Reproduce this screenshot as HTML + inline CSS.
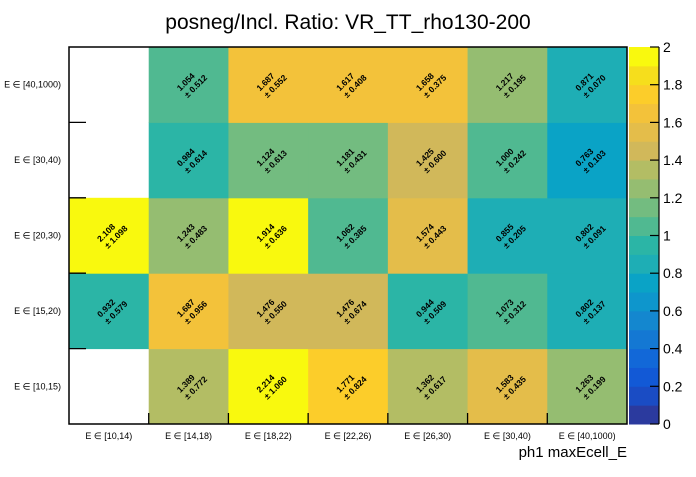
<!DOCTYPE html>
<html><head><meta charset="utf-8"><style>
body{margin:0;background:#fff;font-family:"Liberation Sans",sans-serif}
</style></head><body>
<svg id="c" width="696" height="472" xmlns="http://www.w3.org/2000/svg" font-family="Liberation Sans, DejaVu Sans, sans-serif">
<text x="348" y="29" font-size="21" text-anchor="middle">posneg/Incl. Ratio: VR_TT_rho130-200</text>
<g id="cells"></g>
<g id="axes"></g>
</svg>
<script>
const xLabels=["E ∈ [10,14)","E ∈ [14,18)","E ∈ [18,22)","E ∈ [22,26)","E ∈ [26,30)","E ∈ [30,40)","E ∈ [40,1000)"];
const yLabels=["E ∈ [10,15)","E ∈ [15,20)","E ∈ [20,30)","E ∈ [30,40)","E ∈ [40,1000)"];
const values=[
 [null,1.389,2.214,1.771,1.362,1.583,1.263],
 [0.932,1.687,1.476,1.476,0.944,1.073,0.802],
 [2.108,1.243,1.914,1.062,1.574,0.855,0.802],
 [null,0.984,1.124,1.181,1.425,1.000,0.763],
 [null,1.054,1.687,1.617,1.658,1.217,0.871]];
const errors=[
 [null,0.772,1.060,0.824,0.617,0.435,0.199],
 [0.579,0.956,0.550,0.674,0.509,0.312,0.137],
 [1.098,0.483,0.636,0.385,0.443,0.205,0.091],
 [null,0.614,0.613,0.431,0.600,0.242,0.103],
 [null,0.512,0.552,0.408,0.375,0.195,0.070]];
const zTicks=[0,0.2,0.4,0.6,0.8,1,1.2,1.4,1.6,1.8,2];
const palette=["#2b3a9e","#1a4cc4","#1259d6","#1268d8","#1478d3","#1487cf","#0e96cc","#0aa3c6","#1eaeb5","#2bb5a6","#50b991","#73bc80","#95bd71","#b3bd64","#d1b85a","#e4bd4a","#f3c23a","#fccd2a","#f6de1c","#f9f90e"];
const L=69,R=627,T=47,B=424,CB0=629,CB1=659;
const NS="http://www.w3.org/2000/svg";
const cw=(R-L)/xLabels.length, rh=(B-T)/yLabels.length;
const xPos=i=>L+i*cw, yPos=j=>B-(j+1)*rh;
const zPos=z=>B-(z-0)/(2-0)*(B-T);
function col(v){let k=Math.floor(v*10+1e-9);k=Math.max(0,Math.min(19,k));return palette[k];}
function mk(tag,attrs,parent){const e=document.createElementNS(NS,tag);for(const k in attrs)e.setAttribute(k,attrs[k]);parent.appendChild(e);return e;}
const cells=document.getElementById('cells'),axes=document.getElementById('axes');
values.forEach((row,j)=>row.forEach((v,i)=>{
 if(v===null)return;
 const r=mk('rect',{x:xPos(i),y:yPos(j),width:cw+0.5,height:rh+0.5,fill:col(v)},cells);
 
 
 const cx=xPos(i)+cw/2, cy=yPos(j)+rh/2;
 const t=mk('text',{transform:`translate(${cx},${cy}) rotate(-45)`,'font-size':8.5,'font-weight':'bold','text-anchor':'middle'},cells);
 
 
 mk('tspan',{x:0,y:-1},t).textContent=v.toFixed(3);
 mk('tspan',{x:4,y:9},t).textContent="± "+errors[j][i].toFixed(3);
}));
// frame
const fr=mk('rect',{x:L,y:T,width:R-L,height:B-T,fill:'none',stroke:'#000','stroke-width':1.5},axes);


for(let j=0;j<yLabels.length;j++){
 if(j>0) mk('line',{x1:L,x2:L+17,y1:B-j*rh,y2:B-j*rh,stroke:'#000','stroke-width':1.3},axes);
 const t=mk('text',{x:L-8,y:yPos(j)+rh/2+3,'font-size':9,'text-anchor':'end'},axes);
 
 
 t.textContent=yLabels[j];
}
for(let i=0;i<xLabels.length;i++){
 if(i>0) mk('line',{x1:xPos(i),x2:xPos(i),y1:B,y2:B-11,stroke:'#000','stroke-width':1.3},axes);
 const t=mk('text',{x:xPos(i)+cw/2,y:439,'font-size':9,'text-anchor':'middle'},axes);
 
 
 t.textContent=xLabels[i];
}
const xt=mk('text',{x:627,y:457,'font-size':15,'text-anchor':'end'},axes);


xt.textContent="ph1 maxEcell_E";
// colorbar
palette.forEach((c,k)=>{
 const y1=zPos((k+1)*0.1), y0=zPos(k*0.1);
 const r=mk('rect',{x:CB0,y:y1,width:CB1-CB0,height:y0-y1+0.5,fill:c},axes);
 
 
});
mk('line',{x1:CB1,x2:CB1,y1:T,y2:B,stroke:'#000','stroke-width':1.2},axes);
zTicks.forEach(z=>{
 mk('line',{x1:CB1-9,x2:CB1,y1:zPos(z),y2:zPos(z),stroke:'#000','stroke-width':1.2},axes);
 const t=mk('text',{x:CB1+4,y:zPos(z)+5,'font-size':14},axes);
 
 
 t.textContent=String(z);
});
</script>
</body></html>
